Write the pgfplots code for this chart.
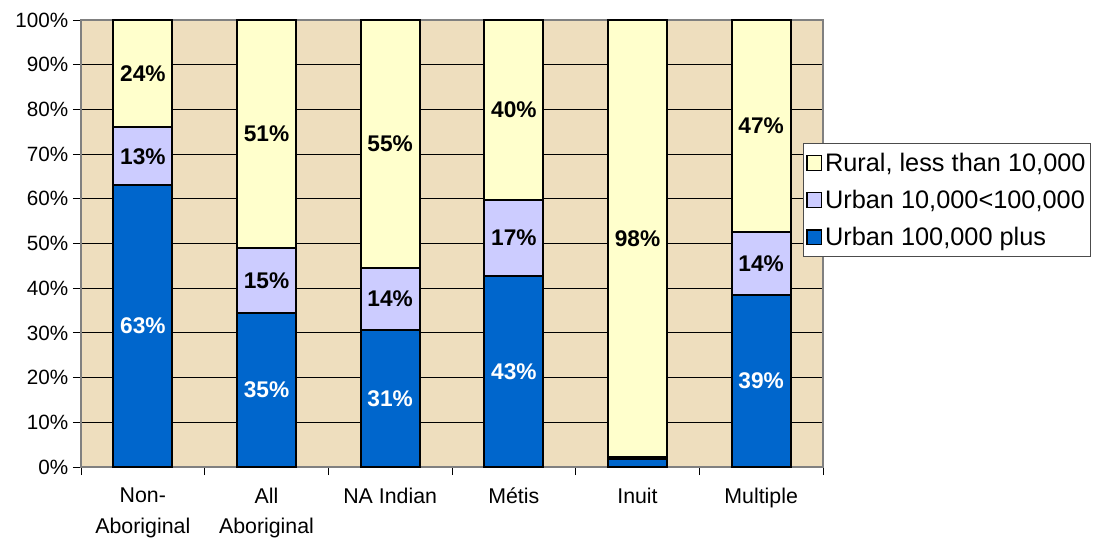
\documentclass[border=0pt]{standalone}
\usepackage{fontspec}
\setmainfont{Liberation Sans}
\usepackage{pgfplots}
\pgfplotsset{compat=1.18}
\definecolor{cblue}{RGB}{0,102,204}
\definecolor{clav}{RGB}{204,204,255}
\definecolor{cyel}{RGB}{255,255,204}
\definecolor{bgtan}{RGB}{238,222,190}
\begin{document}
\begin{tikzpicture}
\useasboundingbox (-60.75pt,-56.25pt) rectangle (768pt,350.25pt);
\begin{axis}[
  at={(0,0)}, anchor=south west,
  scale only axis, width=556.5pt, height=335.25pt,
  ybar stacked, bar width=44.25pt,
  xmin=-0.5, xmax=5.5, ymin=0, ymax=100,
  axis background/.style={fill=bgtan},
  axis line style={draw=black!50, line width=1.3pt},
  tick pos=left,
  xtick={0,...,5},
  xticklabels={{Non-\\Aboriginal},{All\\Aboriginal},{NA Indian},{Métis},{Inuit},{Multiple}},
  xticklabel style={align=center, font=\fontsize{16}{23}\selectfont, anchor=north, yshift=-6pt},
  major x tick style={draw=none},
  minor xtick={-0.5,0.5,...,5.5},
  minor x tick style={draw=black, line width=0.6pt},
  tick align=outside,
  minor tick length=6pt,
  major tick length=6pt,
  ytick={0,10,...,100},
  ytick style={draw=black, line width=0.6pt},
  yticklabel={\pgfmathprintnumber{\tick}\%},
  yticklabel style={font=\fontsize{15.5}{18}\selectfont},
  /pgf/number format/assume math mode=true,
  ymajorgrids,
  grid style={draw=black, line width=0.6pt},
  legend style={at={(0.973,0.7248)}, anchor=north west, draw=black!70, line width=0.7pt, fill=white,
    font=\fontsize{19}{22}\selectfont, row sep=8.5pt, inner xsep=2pt, inner ysep=5pt},
  legend cell align=left,
  reverse legend,
]
\addplot[fill=cblue, draw=black, line width=1.6pt,
  legend image code/.code={\draw[fill=cblue, draw=black, line width=1.2pt] (0pt,-5.5pt) rectangle (11pt,5.5pt);}]
  coordinates {(0,63) (1,34.5) (2,30.6) (3,42.7) (4,1.7) (5,38.5)};
\addplot[fill=clav, draw=black, line width=1.6pt,
  legend image code/.code={\draw[fill=clav, draw=black, line width=1.2pt] (0pt,-5.5pt) rectangle (11pt,5.5pt);}]
  coordinates {(0,13) (1,14.5) (2,13.9) (3,17) (4,0.5) (5,14.1)};
\addplot[fill=cyel, draw=black, line width=1.6pt,
  legend image code/.code={\draw[fill=cyel, draw=black, line width=1.2pt] (0pt,-5.5pt) rectangle (11pt,5.5pt);}]
  coordinates {(0,24) (1,51) (2,55.5) (3,40.3) (4,97.8) (5,47.4)};
\legend{Urban 100{,}000 plus, Urban 10{,}000<100{,}000, {Rural, less than 10{,}000}}
\end{axis}
\begin{axis}[
  at={(0,0)}, anchor=south west,
  scale only axis, width=556.5pt, height=335.25pt,
  xmin=-0.5, xmax=5.5, ymin=0, ymax=100,
  axis lines=none, clip=false,
  nodes near coords, point meta=explicit symbolic,
  nodes near coords align=center,
]
\addplot[draw=none, mark=none, every node near coord/.append style={anchor=center, text=white, font=\bfseries\fontsize{17}{20}\selectfont}]
  coordinates {(0,31.5) [63\%] (1,17.25) [35\%] (2,15.3) [31\%] (3,21.35) [43\%] (5,19.25) [39\%]};
\addplot[draw=none, mark=none, every node near coord/.append style={anchor=center, text=black, font=\bfseries\fontsize{17}{20}\selectfont}]
  coordinates {(0,69.5) [13\%] (1,41.75) [15\%] (2,37.55) [14\%] (3,51.2) [17\%] (5,45.55) [14\%]
  (0,88) [24\%] (1,74.5) [51\%] (2,72.25) [55\%] (3,79.85) [40\%] (4,51.1) [98\%] (5,76.3) [47\%]};
\end{axis}
\end{tikzpicture}
\end{document}
